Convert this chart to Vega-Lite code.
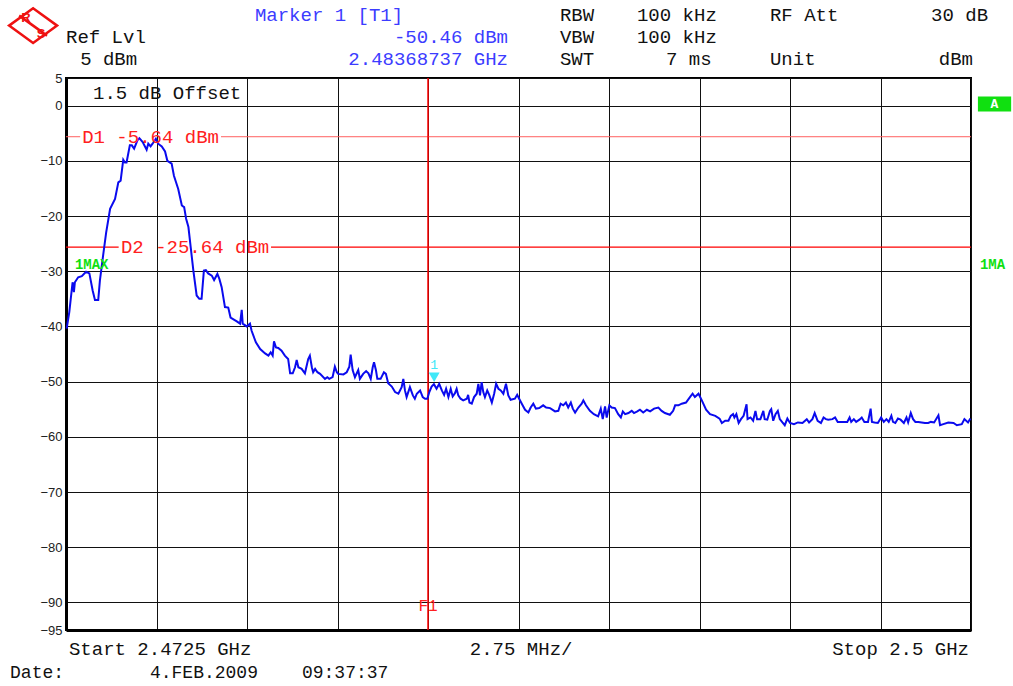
{
  "$schema": "https://vega.github.io/schema/vega-lite/v6.json",
  "width": 905,
  "height": 552,
  "autosize": "none",
  "padding": {"left": 66, "top": 78, "right": 42, "bottom": 56},
  "background": "white",
  "config": {
    "view": {"stroke": "black", "strokeWidth": 2},
    "axis": {"title": null}
  },
  "encoding": {
    "x": {
      "field": "f", "type": "quantitative",
      "scale": {"domain": [2472.5, 2500], "nice": false, "zero": false},
      "axis": {
        "values": [2472.5, 2475.25, 2478, 2480.75, 2483.5, 2486.25, 2489, 2491.75, 2494.5, 2497.25, 2500],
        "labels": false, "ticks": false, "grid": true, "gridColor": "#111", "gridWidth": 1, "gridOpacity": 1,
        "domainColor": "black", "domainWidth": 3, "title": null
      }
    },
    "y": {
      "field": "level", "type": "quantitative",
      "scale": {"domain": [-95, 5], "nice": false, "zero": false},
      "axis": {
        "values": [5, 0, -10, -20, -30, -40, -50, -60, -70, -80, -90, -95],
        "ticks": false, "grid": true, "gridColor": "#111", "gridWidth": 1, "gridOpacity": 1,
        "domainColor": "black", "domainWidth": 3,
        "labelFont": "Liberation Sans", "labelFontSize": 13, "labelColor": "#222", "labelPadding": 4,
        "title": null
      }
    }
  },
  "layer": [
    {
      "data": {"values": [
        {"f": 2472.5, "f2": 2472.93, "level": -5.64},
        {"f": 2477.21, "f2": 2500, "level": -5.64}
      ]},
      "mark": {"type": "rule", "color": "#ff6060", "strokeWidth": 1},
      "encoding": {"x2": {"field": "f2"}}
    },
    {
      "data": {"values": [
        {"f": 2472.5, "f2": 2474.1, "level": -25.64},
        {"f": 2478.73, "f2": 2500, "level": -25.64}
      ]},
      "mark": {"type": "rule", "color": "#ff0000", "strokeWidth": 1.3},
      "encoding": {"x2": {"field": "f2"}}
    },
    {
      "data": {"values": [{"f": 2483.5, "level": 5, "level2": -95}]},
      "mark": {"type": "rule", "color": "#ff0000", "strokeWidth": 1.5},
      "encoding": {"y2": {"field": "level2"}}
    },
    {
      "data": {"values": [
        {"f":2472.52,"level":-40.4},{"f":2472.60,"level":-37.4},{"f":2472.70,"level":-32.0},{"f":2472.74,"level":-33.8},{"f":2472.77,"level":-32.0},
        {"f":2472.87,"level":-31.1},{"f":2472.98,"level":-30.9},{"f":2473.11,"level":-30.1},{"f":2473.21,"level":-30.4},{"f":2473.31,"level":-33.5},
        {"f":2473.38,"level":-35.2},{"f":2473.48,"level":-35.2},{"f":2473.53,"level":-31.7},{"f":2473.62,"level":-27.5},{"f":2473.72,"level":-23.0},
        {"f":2473.84,"level":-18.7},{"f":2473.99,"level":-16.9},{"f":2474.09,"level":-13.9},{"f":2474.16,"level":-13.6},{"f":2474.24,"level":-9.8},
        {"f":2474.29,"level":-10.3},{"f":2474.34,"level":-10.3},{"f":2474.44,"level":-7.2},{"f":2474.50,"level":-7.2},{"f":2474.57,"level":-7.8},
        {"f":2474.67,"level":-6.3},{"f":2474.73,"level":-5.9},{"f":2474.83,"level":-6.6},{"f":2474.95,"level":-8.0},{"f":2475.00,"level":-6.9},
        {"f":2475.07,"level":-7.4},{"f":2475.13,"level":-6.9},{"f":2475.23,"level":-6.0},{"f":2475.30,"level":-6.9},{"f":2475.41,"level":-7.4},
        {"f":2475.51,"level":-8.3},{"f":2475.58,"level":-10.0},{"f":2475.71,"level":-10.5},{"f":2475.78,"level":-12.7},{"f":2475.91,"level":-15.1},
        {"f":2476.02,"level":-18.1},{"f":2476.09,"level":-18.4},{"f":2476.15,"level":-20.5},{"f":2476.22,"level":-22.0},{"f":2476.29,"level":-25.7},
        {"f":2476.37,"level":-29.9},{"f":2476.47,"level":-34.4},{"f":2476.55,"level":-35.0},{"f":2476.62,"level":-35.0},{"f":2476.69,"level":-29.9},
        {"f":2476.75,"level":-29.8},{"f":2476.82,"level":-30.4},{"f":2476.93,"level":-30.8},{"f":2477.00,"level":-31.6},{"f":2477.10,"level":-30.5},
        {"f":2477.16,"level":-31.4},{"f":2477.23,"level":-32.9},{"f":2477.33,"level":-36.5},{"f":2477.43,"level":-36.6},{"f":2477.50,"level":-38.4},
        {"f":2477.69,"level":-39.1},{"f":2477.79,"level":-39.5},{"f":2477.84,"level":-37.0},{"f":2477.87,"level":-39.5},{"f":2477.99,"level":-40.0},
        {"f":2478.09,"level":-39.5},{"f":2478.14,"level":-40.8},{"f":2478.27,"level":-42.9},{"f":2478.40,"level":-44.1},{"f":2478.55,"level":-44.9},
        {"f":2478.65,"level":-45.3},{"f":2478.72,"level":-44.7},{"f":2478.78,"level":-45.3},{"f":2478.82,"level":-42.7},{"f":2478.88,"level":-43.8},
        {"f":2478.95,"level":-43.9},{"f":2479.05,"level":-44.4},{"f":2479.15,"level":-45.3},{"f":2479.25,"level":-45.9},{"f":2479.31,"level":-48.5},
        {"f":2479.39,"level":-48.5},{"f":2479.46,"level":-47.4},{"f":2479.51,"level":-46.1},{"f":2479.56,"level":-47.4},{"f":2479.66,"level":-47.7},
        {"f":2479.76,"level":-48.5},{"f":2479.86,"level":-45.9},{"f":2479.91,"level":-45.3},{"f":2479.97,"level":-47.4},{"f":2480.01,"level":-48.3},
        {"f":2480.07,"level":-47.7},{"f":2480.14,"level":-48.3},{"f":2480.22,"level":-48.6},{"f":2480.37,"level":-49.5},{"f":2480.44,"level":-49.2},
        {"f":2480.50,"level":-49.5},{"f":2480.60,"level":-49.2},{"f":2480.67,"level":-47.3},{"f":2480.73,"level":-48.3},{"f":2480.77,"level":-48.6},
        {"f":2480.93,"level":-48.7},{"f":2481.03,"level":-48.3},{"f":2481.11,"level":-47.3},{"f":2481.15,"level":-45.1},{"f":2481.21,"level":-47.9},
        {"f":2481.28,"level":-49.2},{"f":2481.38,"level":-47.9},{"f":2481.43,"level":-49.5},{"f":2481.53,"level":-48.6},{"f":2481.62,"level":-48.1},
        {"f":2481.69,"level":-48.5},{"f":2481.76,"level":-49.5},{"f":2481.82,"level":-47.4},{"f":2481.86,"level":-46.5},{"f":2481.92,"level":-48.0},
        {"f":2481.96,"level":-49.5},{"f":2482.06,"level":-49.5},{"f":2482.16,"level":-48.3},{"f":2482.22,"level":-48.6},{"f":2482.29,"level":-50.3},
        {"f":2482.40,"level":-50.9},{"f":2482.50,"level":-51.9},{"f":2482.60,"level":-52.2},{"f":2482.70,"level":-51.0},{"f":2482.75,"level":-49.5},
        {"f":2482.80,"level":-51.6},{"f":2482.85,"level":-52.8},{"f":2482.95,"level":-51.0},{"f":2483.04,"level":-52.5},{"f":2483.10,"level":-53.1},
        {"f":2483.16,"level":-52.2},{"f":2483.26,"level":-51.6},{"f":2483.34,"level":-52.8},{"f":2483.41,"level":-53.1},{"f":2483.48,"level":-53.1},
        {"f":2483.54,"level":-51.9},{"f":2483.61,"level":-50.9},{"f":2483.68,"level":-50.46},{"f":2483.76,"level":-51.3},{"f":2483.84,"level":-50.4},
        {"f":2483.92,"level":-51.6},{"f":2483.99,"level":-52.4},{"f":2484.05,"level":-51.3},{"f":2484.12,"level":-52.8},{"f":2484.19,"level":-51.3},
        {"f":2484.25,"level":-52.7},{"f":2484.32,"level":-52.1},{"f":2484.37,"level":-51.3},{"f":2484.42,"level":-52.5},{"f":2484.49,"level":-53.1},
        {"f":2484.57,"level":-53.4},{"f":2484.68,"level":-53.1},{"f":2484.72,"level":-52.4},{"f":2484.76,"level":-53.8},{"f":2484.83,"level":-54.0},
        {"f":2484.90,"level":-52.8},{"f":2484.98,"level":-52.2},{"f":2485.03,"level":-50.4},{"f":2485.08,"level":-52.5},{"f":2485.13,"level":-50.1},
        {"f":2485.18,"level":-51.9},{"f":2485.23,"level":-52.8},{"f":2485.30,"level":-51.6},{"f":2485.36,"level":-52.4},{"f":2485.44,"level":-53.8},
        {"f":2485.51,"level":-52.2},{"f":2485.57,"level":-50.4},{"f":2485.64,"level":-51.3},{"f":2485.71,"level":-51.6},{"f":2485.79,"level":-52.2},
        {"f":2485.87,"level":-50.4},{"f":2485.94,"level":-52.5},{"f":2486.01,"level":-53.3},{"f":2486.14,"level":-53.1},{"f":2486.21,"level":-52.4},
        {"f":2486.27,"level":-53.1},{"f":2486.35,"level":-54.0},{"f":2486.45,"level":-55.1},{"f":2486.55,"level":-55.6},{"f":2486.62,"level":-54.7},
        {"f":2486.70,"level":-54.0},{"f":2486.78,"level":-54.9},{"f":2486.88,"level":-54.8},{"f":2487.00,"level":-54.3},{"f":2487.09,"level":-54.7},
        {"f":2487.21,"level":-54.8},{"f":2487.36,"level":-55.4},{"f":2487.46,"level":-55.3},{"f":2487.53,"level":-54.0},{"f":2487.61,"level":-54.3},
        {"f":2487.69,"level":-53.8},{"f":2487.76,"level":-54.7},{"f":2487.84,"level":-53.8},{"f":2487.90,"level":-54.9},{"f":2487.97,"level":-55.6},
        {"f":2488.07,"level":-54.7},{"f":2488.17,"level":-54.0},{"f":2488.22,"level":-53.4},{"f":2488.30,"level":-54.3},{"f":2488.42,"level":-55.3},
        {"f":2488.54,"level":-55.9},{"f":2488.67,"level":-56.3},{"f":2488.75,"level":-54.9},{"f":2488.81,"level":-56.8},{"f":2488.88,"level":-54.5},
        {"f":2488.93,"level":-56.5},{"f":2489.01,"level":-54.3},{"f":2489.08,"level":-54.7},{"f":2489.18,"level":-54.8},{"f":2489.28,"level":-55.9},
        {"f":2489.36,"level":-56.5},{"f":2489.42,"level":-55.4},{"f":2489.49,"level":-55.9},{"f":2489.59,"level":-55.7},{"f":2489.69,"level":-55.3},
        {"f":2489.76,"level":-55.7},{"f":2489.86,"level":-55.4},{"f":2489.94,"level":-55.1},{"f":2490.04,"level":-55.6},{"f":2490.15,"level":-55.1},
        {"f":2490.25,"level":-55.4},{"f":2490.37,"level":-54.9},{"f":2490.50,"level":-54.7},{"f":2490.60,"level":-55.3},{"f":2490.70,"level":-55.7},
        {"f":2490.85,"level":-56.0},{"f":2490.95,"level":-55.3},{"f":2491.01,"level":-54.3},{"f":2491.11,"level":-54.3},{"f":2491.21,"level":-54.0},
        {"f":2491.34,"level":-53.8},{"f":2491.46,"level":-52.8},{"f":2491.54,"level":-52.2},{"f":2491.61,"level":-52.8},{"f":2491.72,"level":-52.2},
        {"f":2491.82,"level":-53.4},{"f":2491.95,"level":-55.1},{"f":2492.07,"level":-55.9},{"f":2492.23,"level":-56.2},{"f":2492.36,"level":-56.7},
        {"f":2492.43,"level":-57.5},{"f":2492.53,"level":-57.1},{"f":2492.63,"level":-57.1},{"f":2492.70,"level":-56.2},{"f":2492.77,"level":-55.9},
        {"f":2492.81,"level":-56.5},{"f":2492.87,"level":-55.9},{"f":2492.94,"level":-57.5},{"f":2493.01,"level":-56.8},{"f":2493.09,"level":-56.2},
        {"f":2493.18,"level":-54.1},{"f":2493.21,"level":-56.8},{"f":2493.30,"level":-56.5},{"f":2493.38,"level":-57.1},{"f":2493.45,"level":-55.3},
        {"f":2493.50,"level":-56.8},{"f":2493.60,"level":-56.8},{"f":2493.69,"level":-55.3},{"f":2493.73,"level":-56.8},{"f":2493.81,"level":-56.9},
        {"f":2493.89,"level":-55.3},{"f":2493.93,"level":-55.0},{"f":2493.99,"level":-57.1},{"f":2494.06,"level":-55.9},{"f":2494.13,"level":-55.3},
        {"f":2494.19,"level":-56.8},{"f":2494.27,"level":-57.4},{"f":2494.34,"level":-57.9},{"f":2494.42,"level":-56.7},{"f":2494.50,"level":-57.5},
        {"f":2494.62,"level":-57.7},{"f":2494.74,"level":-57.4},{"f":2494.88,"level":-57.5},{"f":2495.01,"level":-56.8},{"f":2495.08,"level":-57.4},
        {"f":2495.18,"level":-56.8},{"f":2495.25,"level":-55.7},{"f":2495.34,"level":-57.1},{"f":2495.44,"level":-57.5},{"f":2495.52,"level":-56.5},
        {"f":2495.59,"level":-56.8},{"f":2495.66,"level":-56.9},{"f":2495.79,"level":-56.8},{"f":2495.87,"level":-56.5},{"f":2495.95,"level":-57.3},
        {"f":2496.10,"level":-57.3},{"f":2496.24,"level":-57.3},{"f":2496.31,"level":-56.5},{"f":2496.36,"level":-57.3},{"f":2496.44,"level":-56.8},
        {"f":2496.51,"level":-57.3},{"f":2496.61,"level":-56.9},{"f":2496.68,"level":-56.5},{"f":2496.76,"level":-57.3},{"f":2496.87,"level":-57.3},
        {"f":2496.95,"level":-54.9},{"f":2496.99,"level":-57.3},{"f":2497.07,"level":-57.4},{"f":2497.17,"level":-57.5},{"f":2497.27,"level":-56.5},
        {"f":2497.35,"level":-57.3},{"f":2497.43,"level":-56.8},{"f":2497.50,"level":-57.3},{"f":2497.58,"level":-56.2},{"f":2497.63,"level":-57.3},
        {"f":2497.70,"level":-57.5},{"f":2497.78,"level":-56.7},{"f":2497.86,"level":-56.9},{"f":2497.96,"level":-57.5},{"f":2498.04,"level":-56.5},
        {"f":2498.09,"level":-57.4},{"f":2498.17,"level":-55.7},{"f":2498.24,"level":-56.8},{"f":2498.31,"level":-57.3},{"f":2498.40,"level":-57.3},
        {"f":2498.50,"level":-57.4},{"f":2498.60,"level":-57.5},{"f":2498.70,"level":-57.5},{"f":2498.78,"level":-57.3},{"f":2498.88,"level":-57.4},
        {"f":2499.01,"level":-56.1},{"f":2499.06,"level":-57.9},{"f":2499.16,"level":-57.7},{"f":2499.31,"level":-57.4},{"f":2499.47,"level":-57.5},
        {"f":2499.57,"level":-57.9},{"f":2499.72,"level":-57.7},{"f":2499.80,"level":-56.8},{"f":2499.91,"level":-57.4},{"f":2499.98,"level":-56.7}
      ]},
      "mark": {"type": "line", "color": "#0a0aee", "strokeWidth": 2, "interpolate": "linear"}
    },
    {
      "data": {"values": [{"f": 2483.687, "level": -49.2}]},
      "mark": {"type": "point", "shape": "triangle-down", "filled": true, "color": "#40e8f8", "size": 120, "opacity": 1}
    },
    {
      "data": {"values": [{"f": 2483.687, "level": -47.0, "t": "1"}]},
      "mark": {"type": "text", "font": "Liberation Mono", "fontSize": 13, "color": "#40e8f8", "align": "center", "baseline": "middle"},
      "encoding": {"text": {"field": "t"}}
    },
    {
      "data": {"values": [
        {"f": 2472.50, "level": 12.50, "t": "Ref Lvl"},
        {"f": 2472.93, "level": 8.51, "t": "5 dBm"},
        {"f": 2487.51, "level": 16.49, "t": "RBW"},
        {"f": 2489.85, "level": 16.49, "t": "100 kHz"},
        {"f": 2493.89, "level": 16.49, "t": "RF Att"},
        {"f": 2487.51, "level": 12.50, "t": "VBW"},
        {"f": 2489.85, "level": 12.50, "t": "100 kHz"},
        {"f": 2487.51, "level": 8.51, "t": "SWT"},
        {"f": 2490.73, "level": 8.51, "t": "7 ms"},
        {"f": 2493.89, "level": 8.51, "t": "Unit"},
        {"f": 2472.59, "level": -98.37, "t": "Start 2.4725 GHz"},
        {"f": 2473.32, "level": 2.36, "t": "1.5 dB Offset"}
      ]},
      "mark": {"type": "text", "font": "Liberation Mono", "fontSize": 19, "color": "#111", "align": "left", "baseline": "middle"},
      "encoding": {"text": {"field": "t"}}
    },
    {
      "data": {"values": [
        {"f": 2470.80, "level": -102.7, "t": "Date:"},
        {"f": 2475.05, "level": -102.7, "t": "4.FEB.2009"},
        {"f": 2479.67, "level": -102.7, "t": "09:37:37"}
      ]},
      "mark": {"type": "text", "font": "Liberation Mono", "fontSize": 18, "color": "#111", "align": "left", "baseline": "middle"},
      "encoding": {"text": {"field": "t"}}
    },
    {
      "data": {"values": [
        {"f": 2500.52, "level": 16.49, "t": "30 dB"},
        {"f": 2500.06, "level": 8.51, "t": "dBm"},
        {"f": 2499.94, "level": -98.37, "t": "Stop 2.5 GHz"}
      ]},
      "mark": {"type": "text", "font": "Liberation Mono", "fontSize": 19, "color": "#111", "align": "right", "baseline": "middle"},
      "encoding": {"text": {"field": "t"}}
    },
    {
      "data": {"values": [{"f": 2486.33, "level": -98.37, "t": "2.75 MHz/"}]},
      "mark": {"type": "text", "font": "Liberation Mono", "fontSize": 19, "color": "#111", "align": "center", "baseline": "middle"},
      "encoding": {"text": {"field": "t"}}
    },
    {
      "data": {"values": [{"f": 2478.24, "level": 16.49, "t": "Marker 1 [T1]"}]},
      "mark": {"type": "text", "font": "Liberation Mono", "fontSize": 19, "color": "#3c3cff", "align": "left", "baseline": "middle"},
      "encoding": {"text": {"field": "t"}}
    },
    {
      "data": {"values": [
        {"f": 2485.93, "level": 12.50, "t": "-50.46 dBm"},
        {"f": 2485.93, "level": 8.51, "t": "2.48368737 GHz"}
      ]},
      "mark": {"type": "text", "font": "Liberation Mono", "fontSize": 19, "color": "#3c3cff", "align": "right", "baseline": "middle"},
      "encoding": {"text": {"field": "t"}}
    },
    {
      "data": {"values": [
        {"f": 2472.99, "level": -5.64, "t": "D1 -5.64 dBm"},
        {"f": 2474.17, "level": -25.64, "t": "D2 -25.64 dBm"}
      ]},
      "mark": {"type": "text", "font": "Liberation Mono", "fontSize": 19, "color": "#ff2020", "align": "left", "baseline": "middle"},
      "encoding": {"text": {"field": "t"}}
    },
    {
      "data": {"values": [{"f": 2483.5, "level": -90.6, "t": "F1"}]},
      "mark": {"type": "text", "font": "Liberation Mono", "fontSize": 16, "color": "#ff2020", "align": "center", "baseline": "middle"},
      "encoding": {"text": {"field": "t"}}
    },
    {
      "data": {"values": [
        {"f": 2472.77, "level": -28.8, "t": "1MAX"},
        {"f": 2500.27, "level": -28.8, "t": "1MA"}
      ]},
      "mark": {"type": "text", "font": "Liberation Mono", "fontSize": 14, "fontWeight": "bold", "color": "#10e010", "align": "left", "baseline": "middle"},
      "encoding": {"text": {"field": "t"}}
    },
    {
      "data": {"values": [{"f": 2500.21, "f2": 2501.22, "level": 1.63, "level2": -1.09}]},
      "mark": {"type": "rect", "color": "#10e010"},
      "encoding": {"x2": {"field": "f2"}, "y2": {"field": "level2"}}
    },
    {
      "data": {"values": [{"f": 2500.71, "level": 0.27, "t": "A"}]},
      "mark": {"type": "text", "font": "Liberation Mono", "fontSize": 13, "fontWeight": "bold", "color": "white", "align": "center", "baseline": "middle"},
      "encoding": {"text": {"field": "t"}}
    },
    {
      "data": {"values": [{"f": 2471.50, "level": 14.49}]},
      "mark": {"type": "point", "shape": "M-1,0L0,-0.72L1,0L0,0.72Z M-0.42,-0.3L0.58,0.42 M-0.5,-0.36L0.5,0.36 M-0.58,-0.42L0.42,0.3", "filled": false, "fill": "white", "stroke": "#ee1111", "strokeWidth": 2.5, "size": 2304, "opacity": 1}
    },
    {
      "data": {"values": [
        {"f": 2471.28, "level": 15.94, "t": "R"},
        {"f": 2471.74, "level": 13.04, "t": "S"}
      ]},
      "mark": {"type": "text", "font": "Liberation Sans", "fontSize": 13, "fontWeight": "bold", "color": "#ee1111", "align": "center", "baseline": "middle"},
      "encoding": {"text": {"field": "t"}}
    }
  ]
}
